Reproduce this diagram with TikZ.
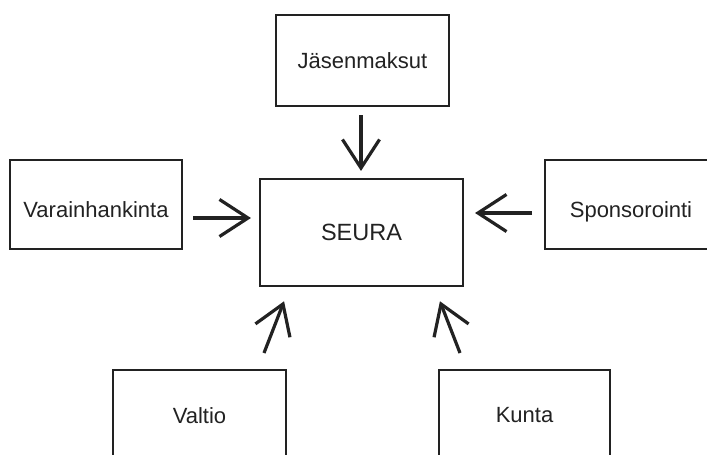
\documentclass[tikz,border=0pt]{standalone}
\usepackage{fontspec}
\setmainfont{Liberation Sans}
\usetikzlibrary{calc}
\definecolor{ink}{HTML}{222222}
\tikzset{
  box/.style={draw=ink, line width=2.4pt, fill=white, text=ink, inner sep=0pt,
    minimum width=172pt, minimum height=90pt, font=\fontsize{22}{26}\selectfont},
  sidebox/.style={box, minimum height=89pt, text height=25pt, text depth=0pt},
  shaft/.style={draw=ink, line width=3.2pt, line cap=butt},
  barb/.style={draw=ink, line width=3.2pt, line cap=butt, line join=miter}
}
\newcommand{\chev}[2]{%
  \draw[shaft] (#1) -- (#2);
  \draw[barb] ($(#2)!34pt!33:(#1)$) -- (#2) -- ($(#2)!34pt!-33:(#1)$);}
\begin{document}
\begin{tikzpicture}[x=1pt,y=-1pt]
\useasboundingbox (0,0) rectangle (707,455);
\fill[white] (0,0) rectangle (707,455);
\begin{scope}
\clip (0,0) rectangle (707,455);
\node[box, minimum width=173pt, minimum height=91pt] (jas) at (362.5,60.5) {Jäsenmaksut};
\node[box, minimum width=203pt, minimum height=107pt, font=\fontsize{23.5}{28}\selectfont] (seura) at (361.5,232.5) {SEURA};
\node[sidebox] (var) at (96,204.5) {Varainhankinta};
\node[sidebox] (spo) at (631,204.5) {Sponsorointi};
\node[box, minimum width=173pt, minimum height=91pt] (val) at (199.5,415.5) {Valtio};
\node[box, minimum width=171pt, minimum height=91pt] (kun) at (524.5,415.5) {Kunta};
\end{scope}
\coordinate (a1s) at (361,115);
\coordinate (a1t) at (361,168);
\coordinate (a2s) at (193,218);
\coordinate (a2t) at (248,218);
\coordinate (a3s) at (532,213);
\coordinate (a3t) at (478,213);
\coordinate (a4s) at (264,353);
\coordinate (a4t) at (283,304);
\coordinate (a5s) at (460,353);
\coordinate (a5t) at (441,304);
\chev{a1s}{a1t}
\chev{a2s}{a2t}
\chev{a3s}{a3t}
\chev{a4s}{a4t}
\chev{a5s}{a5t}
\end{tikzpicture}
\end{document}
